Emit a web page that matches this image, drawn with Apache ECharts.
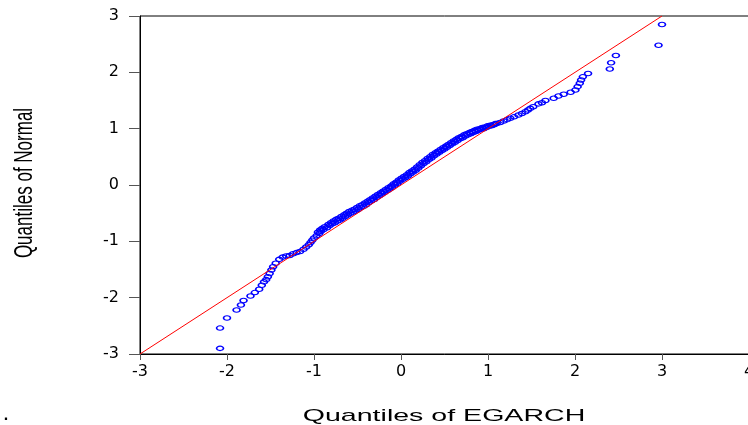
<!DOCTYPE html>
<html>
<head>
<meta charset="utf-8">
<script src="https://cdn.jsdelivr.net/npm/echarts@6/dist/echarts.min.js"></script>
<style>
html,body{margin:0;padding:0;background:#fff;}
#chart{width:748px;height:425px;}
</style>
</head>
<body>
<div id="chart"></div>
<script>
// Axis ticks
const xTicks = [-3, -2, -1, 0, 1, 2, 3, 4];
const yTicks = [-3, -2, -1, 0, 1, 2, 3];
const xTitle = 'Quantiles of EGARCH';
const yTitle = 'Quantiles of Normal';

// Reference line (45 degree)
const refLine = [[-3, -3], [3, 3]];

// QQ points [EGARCH quantile, Normal quantile]
const lowerTail = [
  [-2.08,-2.90],[-2.08,-2.54],[-2.00,-2.36],[-1.89,-2.22],[-1.84,-2.13],[-1.81,-2.05],
  [-1.73,-1.97],[-1.68,-1.91],[-1.63,-1.85],[-1.60,-1.78],[-1.575,-1.72],[-1.55,-1.68],
  [-1.53,-1.63],[-1.51,-1.57],[-1.49,-1.51],[-1.47,-1.45],[-1.44,-1.39],[-1.40,-1.32],
  [-1.36,-1.28],[-1.32,-1.26],[-1.28,-1.25],[-1.24,-1.22],[-1.20,-1.20],[-1.16,-1.18],
  [-1.12,-1.14],[-1.09,-1.10],[-1.06,-1.06],[-1.04,-1.02],[-1.02,-0.98],[-1.00,-0.94]
];
const centre = [
  [-0.97,-0.90],[-0.94,-0.86],[-0.92,-0.82],[-0.89,-0.79],[-0.85,-0.76],[-0.82,-0.72],
  [-0.79,-0.69],[-0.76,-0.67],[-0.73,-0.64],[-0.70,-0.62],[-0.67,-0.59],[-0.64,-0.56],
  [-0.61,-0.53],[-0.58,-0.50],[-0.55,-0.48],[-0.52,-0.46],[-0.49,-0.43],[-0.46,-0.40],
  [-0.43,-0.38],[-0.40,-0.35],[-0.37,-0.31],[-0.34,-0.28],[-0.31,-0.26],[-0.28,-0.22],
  [-0.25,-0.19],[-0.22,-0.16],[-0.19,-0.13],[-0.16,-0.10],[-0.13,-0.07],[-0.10,-0.04],
  [-0.07,0.00],[-0.04,0.03],[-0.01,0.07],[0.02,0.10],[0.05,0.13],[0.08,0.16],
  [0.11,0.20],[0.14,0.23],[0.17,0.26],[0.20,0.30],[0.23,0.34],[0.26,0.38],
  [0.29,0.41],[0.32,0.45],[0.35,0.48],[0.38,0.52],[0.41,0.55],[0.44,0.58],
  [0.47,0.61],[0.50,0.64],[0.53,0.67],[0.56,0.70],[0.59,0.73],[0.62,0.76],
  [0.65,0.79],[0.68,0.82],[0.71,0.84],[0.74,0.87],[0.77,0.89],[0.80,0.91],
  [0.83,0.93],[0.86,0.95],[0.89,0.97],[0.92,0.99],[0.95,1.00],[0.98,1.02],
  [1.01,1.04],[1.04,1.05],[1.07,1.07],[1.10,1.09]
];
const centreUpperEdge = [
  [-0.955,-0.84],[-0.93,-0.80],[-0.905,-0.77],[-0.875,-0.74],[-0.835,-0.70],[-0.805,-0.67],
  [-0.775,-0.64],[-0.745,-0.61],[-0.715,-0.59],[-0.685,-0.56],[-0.655,-0.53],[-0.625,-0.50],
  [-0.595,-0.47],[-0.565,-0.45],[-0.535,-0.43],[-0.505,-0.40],[-0.475,-0.37],[-0.445,-0.35],
  [-0.415,-0.32],[-0.385,-0.29],[-0.355,-0.26],[-0.325,-0.23],[-0.295,-0.20],[-0.265,-0.17],
  [-0.235,-0.14],[-0.205,-0.11],[-0.175,-0.08],[-0.145,-0.05],[-0.115,-0.02],[-0.085,0.02],
  [-0.055,0.05],[-0.025,0.09],[0.005,0.12],[0.035,0.15],[0.065,0.18],[0.095,0.22],
  [0.125,0.25],[0.155,0.28],[0.185,0.32],[0.215,0.36],[0.245,0.40],[0.275,0.43],
  [0.305,0.47],[0.335,0.50],[0.365,0.54],[0.395,0.57],[0.425,0.60],[0.455,0.63],
  [0.485,0.66],[0.515,0.69],[0.545,0.72],[0.575,0.75],[0.605,0.78],[0.635,0.81],
  [0.665,0.84],[0.695,0.86],[0.725,0.89],[0.755,0.91],[0.785,0.93],[0.815,0.95],
  [0.845,0.97],[0.875,0.99],[0.905,1.00],[0.935,1.02],[0.965,1.03],[0.995,1.05],
  [1.025,1.06],[1.055,1.07],[1.085,1.09]
];
const upperTail = [
  [1.14,1.11],[1.18,1.137],[1.22,1.16],[1.256,1.185],[1.30,1.21],[1.35,1.243],
  [1.39,1.27],[1.43,1.30],[1.46,1.33],[1.486,1.36],[1.52,1.39],[1.58,1.44],
  [1.62,1.46],[1.66,1.50],[1.755,1.54],[1.81,1.58],[1.87,1.61],[1.95,1.646],
  [2.005,1.687],[2.03,1.746],[2.055,1.806],[2.07,1.865],[2.09,1.92],[2.15,1.98],
  [2.40,2.06],[2.415,2.17],[2.47,2.30],[2.96,2.48],[3.00,2.85]
];

const points = lowerTail.concat(centre, centreUpperEdge, upperTail);

const chart = echarts.init(document.getElementById('chart'), null, {renderer: 'canvas'});
const labelFont = {fontFamily: 'DejaVu Sans', fontSize: 16, color: '#000'};
chart.setOption({
  animation: false,
  backgroundColor: '#fff',
  grid: {left: 140, top: 16, width: 609, height: 338, outerBoundsMode: 'none', containLabel: false,
         show: true, borderColor: '#000', borderWidth: 1, backgroundColor: 'transparent'},
  xAxis: {
    type: 'value', min: xTicks[0], max: xTicks[xTicks.length - 1], interval: 1,
    splitLine: {show: false},
    axisLine: {show: true, onZero: false, lineStyle: {color: '#000', width: 1}},
    axisTick: {show: true, length: 6, lineStyle: {color: '#555'}},
    axisLabel: Object.assign({margin: 10, showMaxLabel: true, showMinLabel: true, hideOverlap: false}, labelFont)
  },
  yAxis: {
    type: 'value', min: yTicks[0], max: yTicks[yTicks.length - 1], interval: 1,
    splitLine: {show: false},
    axisLine: {show: true, onZero: false, lineStyle: {color: '#000', width: 1}},
    axisTick: {show: true, length: 11, lineStyle: {color: '#555'}},
    axisLabel: Object.assign({margin: 21}, labelFont)
  },
  graphic: [
    {type: 'text', x: 444, y: 416, scaleX: 1.68, scaleY: 1,
     style: {text: xTitle, font: '17px "Liberation Sans", Arial, sans-serif', fill: '#000', textAlign: 'center', textVerticalAlign: 'middle'}},
    {type: 'text', x: 25, y: 183, rotation: Math.PI / 2, scaleX: 1, scaleY: 1.5,
     style: {text: yTitle, font: '17px "Liberation Sans", Arial, sans-serif', fill: '#000', textAlign: 'center', textVerticalAlign: 'middle'}},
    {type: 'text', x: 6, y: 416,
     style: {text: '.', font: 'bold 16px "Liberation Sans", Arial, sans-serif', fill: '#000', textAlign: 'center', textVerticalAlign: 'middle'}}
  ],
  series: [
    {
      type: 'scatter', data: points, symbol: 'circle', symbolSize: [7, 4.5],
      itemStyle: {color: 'rgba(0,0,0,0)', borderColor: '#0000ff', borderWidth: 1.3, opacity: 1},
      z: 2, silent: true
    },
    {
      type: 'line', data: refLine, showSymbol: false, symbol: 'none',
      lineStyle: {color: '#ff0000', width: 1}, z: 3, silent: true
    }
  ]
});
</script>
</body>
</html>
